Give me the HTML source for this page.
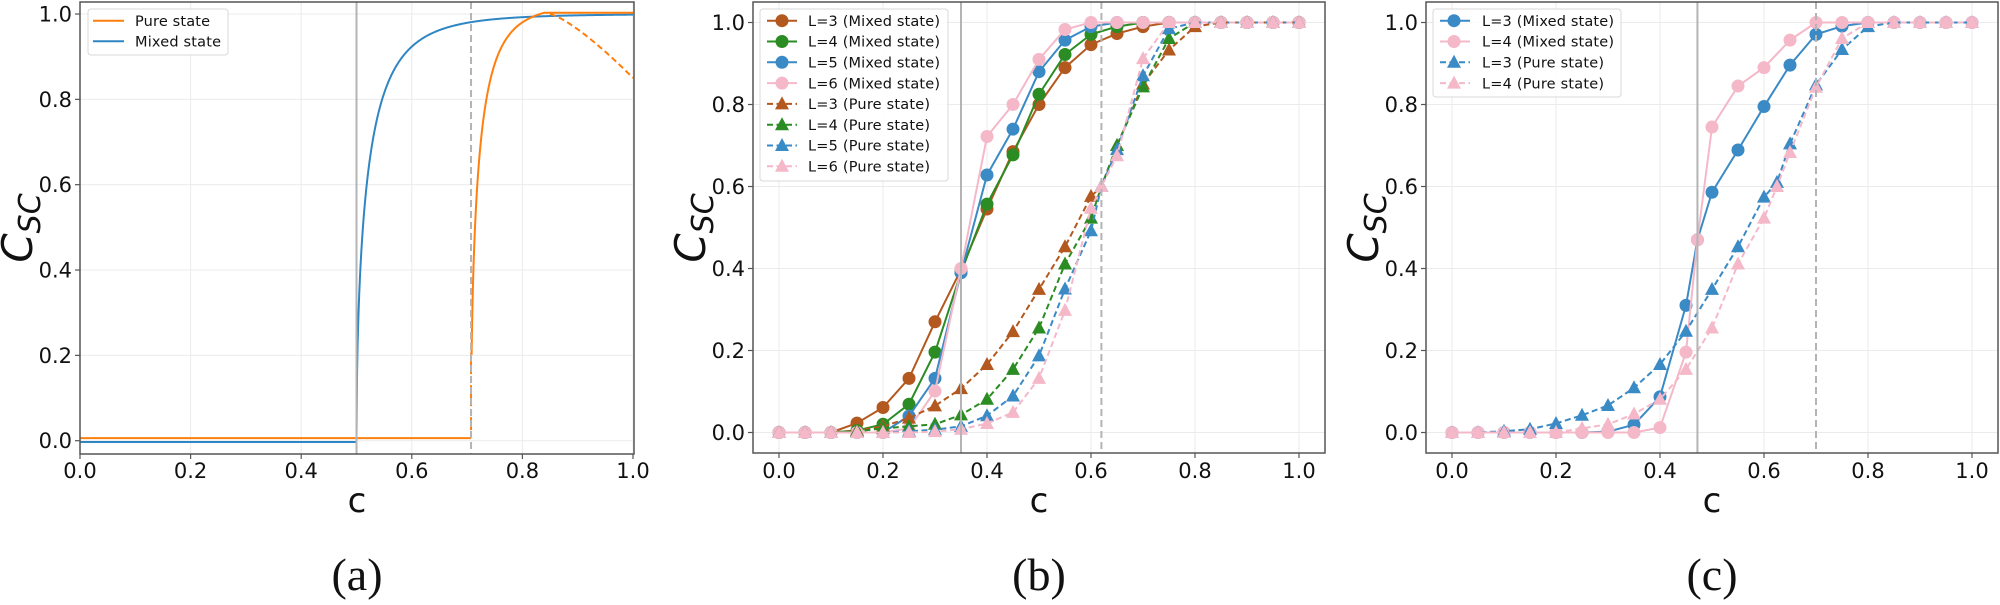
<!DOCTYPE html>
<html><head><meta charset="utf-8">
<style>
html,body{margin:0;padding:0;background:#fff;}
svg{display:block;}
text{font-family:"DejaVu Sans","Liberation Sans",sans-serif;fill:#111;}
</style></head>
<body>
<svg id="s" width="2000" height="605" viewBox="0 0 2000 605" xmlns="http://www.w3.org/2000/svg"></svg>
<script>
const S=document.getElementById('s');
let out='';
function add(t){out+=t;}
const GRAY='#555';
function panel(P){
  const X=c=>P.x0+c*P.xs, Y=v=>P.y0-v*P.ys;
  for(let i=0;i<=5;i++){const t=i*0.2;
    add(`<line x1="${X(t)}" y1="${P.top}" x2="${X(t)}" y2="${P.bot}" stroke="#ebebeb" stroke-width="1"/>`);
    add(`<line x1="${P.l}" y1="${Y(t)}" x2="${P.r}" y2="${Y(t)}" stroke="#ebebeb" stroke-width="1"/>`);
  }
  P.draw(X,Y);
  add(`<line x1="${X(P.v1)}" y1="${P.top}" x2="${X(P.v1)}" y2="${P.bot}" stroke="#b4b4b4" stroke-width="2"/>`);
  add(`<line x1="${X(P.v2)}" y1="${P.top}" x2="${X(P.v2)}" y2="${P.bot}" stroke="#b4b4b4" stroke-width="2" stroke-dasharray="7,4"/>`);
  add(`<rect x="${P.l}" y="${P.top}" width="${P.r-P.l}" height="${P.bot-P.top}" fill="none" stroke="${GRAY}" stroke-width="1.5"/>`);
  for(let i=0;i<=5;i++){const t=i*0.2;const lab=t.toFixed(1);
    add(`<line x1="${X(t)}" y1="${P.bot}" x2="${X(t)}" y2="${P.bot+5}" stroke="${GRAY}" stroke-width="1.2"/>`);
    add(`<text x="${X(t)}" y="478" font-size="21" text-anchor="middle">${lab}</text>`);
    add(`<line x1="${P.l-5}" y1="${Y(t)}" x2="${P.l}" y2="${Y(t)}" stroke="${GRAY}" stroke-width="1.2"/>`);
    add(`<text x="${P.l-8}" y="${Y(t)+7.5}" font-size="21" text-anchor="end">${lab}</text>`);
  }
  const cx=(P.l+P.r)/2;
  add(`<text x="${cx}" y="512" font-size="34" text-anchor="middle">c</text>`);
  add(`<text x="${cx}" y="590" font-size="46" text-anchor="middle" style="font-family:'Liberation Serif','DejaVu Serif',serif">(${P.lab})</text>`);
  const yl=P.l-58;
  add(`<text transform="translate(${yl+10},228) rotate(-90)" font-size="42" text-anchor="middle" style="font-style:italic">C<tspan font-size="30" dy="8">SC</tspan></text>`);
}
function poly(pts,X,Y,col,w,dash){
  const d=pts.map(p=>X(p[0]).toFixed(2)+','+Y(p[1]).toFixed(2)).join(' ');
  add(`<polyline points="${d}" fill="none" stroke="${col}" stroke-width="${w}" ${dash?'stroke-dasharray="'+dash+'"':''} stroke-linejoin="round"/>`);
}
function circ(x,y,col){add(`<circle cx="${x}" cy="${y}" r="6.5" fill="${col}"/>`);}
function tri(x,y,col){add(`<polygon points="${x},${y-7.5} ${x-7},${y+5.5} ${x+7},${y+5.5}" fill="${col}"/>`);}
function series(xs,vs,X,Y,col,dash,mk){
  const pts=xs.map((x,i)=>[x,vs[i]]);
  poly(pts,X,Y,col,2,dash?'6,3.5':null);
  pts.forEach(p=>mk(X(p[0]),Y(p[1]),col));
}
const BR='#b3581e',GR='#2a8c22',BL='#3a8ac6',PK='#f4b8c9';
const xs=[];for(let i=0;i<=20;i++)xs.push(+(i*0.05).toFixed(2));
function ins(xarr,varr,xn,vn){const a=xarr.slice(),b=varr.slice();let k=a.findIndex(x=>x>xn);a.splice(k,0,xn);b.splice(k,0,vn);return [a,b];}

panel({x0:80,xs:553,y0:440.7,ys:426.7,l:80,r:634,top:2,bot:454,v1:0.5,v2:0.7071,lab:'a',
draw:(X,Y)=>{
  const OR='#ff7f0e',MB='#2f86c3';
  let m=[[0,-0.003],[0.5,-0.003]];
  for(let c=0.5;c<=1.0001;c+=0.001){m.push([c,Math.tanh(5.1*Math.sqrt(Math.max(0,c-0.5)))]);}
  let p=[[0,0.006],[0.707,0.006]];
  let pd=[[0.7071,0.006],[0.7071,0.22]];
  let ps=[];
  const c0=0.7071,c1=0.84,k=6.3,N=Math.tanh(k*Math.sqrt(c1-c0));
  for(let c=c0;c<=c1+0.0001;c+=0.0005){ps.push([c,Math.min(1,Math.tanh(k*Math.sqrt(Math.max(0,c-c0)))/N)*1.003]);}
  ps.push([1,1.003]);
  let dec=[];for(let c=0.85;c<=1.0001;c+=0.005){dec.push([c,1-0.15*Math.pow((c-0.85)/0.15,1.3)]);}
  poly(p,X,Y,OR,2);
  poly(m,X,Y,MB,2);
  poly(ps.filter(q=>q[1]>0.2),X,Y,OR,2);
  poly(pd,X,Y,OR,2,'5,3');
  poly(dec,X,Y,OR,2,'6,3.5');
  add(`<rect x="88" y="9" width="140" height="46" rx="3" fill="#fff" fill-opacity="0.85" stroke="#d8d8d8"/>`);
  add(`<line x1="93" y1="20.7" x2="124" y2="20.7" stroke="${OR}" stroke-width="2"/>`);
  add(`<text x="135" y="25.8" font-size="14.5" textLength="75">Pure state</text>`);
  add(`<line x1="93" y1="41.3" x2="124" y2="41.3" stroke="${MB}" stroke-width="2"/>`);
  add(`<text x="135" y="46.4" font-size="14.5" textLength="86">Mixed state</text>`);
}});

panel({x0:779,xs:520,y0:432.5,ys:410,l:753,r:1325,top:2,bot:453,v1:0.35,v2:0.62,lab:'b',
draw:(X,Y)=>{
  const m3=[0,0,0,0.023,0.061,0.132,0.27,0.397,0.545,0.685,0.80,0.89,0.946,0.973,0.99,1,1,1,1,1,1];
  const m4=[0,0,0,0.005,0.02,0.069,0.196,0.39,0.557,0.677,0.825,0.922,0.971,0.99,1,1,1,1,1,1,1];
  const m5=[0,0,0,0,0,0.04,0.132,0.39,0.628,0.74,0.88,0.957,0.99,1,1,1,1,1,1,1,1];
  const m6=[0,0,0,0,0,0.01,0.101,0.40,0.722,0.80,0.91,0.983,1,1,1,1,1,1,1,1,1];
  const p3=[0,0,0,0.005,0.015,0.035,0.065,0.107,0.166,0.246,0.349,0.453,0.576,0.70,0.85,0.933,0.99,1,1,1,1];
  const p4=[0,0,0,0.003,0.01,0.015,0.02,0.043,0.081,0.154,0.255,0.411,0.523,0.70,0.843,0.961,1,1,1,1,1];
  const p5=[0,0,0,0,0,0.003,0.007,0.015,0.041,0.089,0.187,0.35,0.492,0.69,0.87,0.985,1,1,1,1,1];
  const p6=[0,0,0,0,0,0,0.002,0.008,0.022,0.049,0.132,0.298,0.547,0.675,0.912,1,1,1,1,1,1];
  series(xs,m3,X,Y,BR,0,circ);series(xs,m4,X,Y,GR,0,circ);series(xs,m5,X,Y,BL,0,circ);series(xs,m6,X,Y,PK,0,circ);
  [[p3,BR],[p4,GR],[p5,BL],[p6,PK]].forEach(([v,c])=>{const [a,b]=ins(xs,v,0.62,0.60);series(a,b,X,Y,c,1,tri);});
  add(`<rect x="760" y="9" width="188" height="172" rx="3" fill="#fff" fill-opacity="0.85" stroke="#d8d8d8"/>`);
  const L=[['L=3 (Mixed state)',BR,0],['L=4 (Mixed state)',GR,0],['L=5 (Mixed state)',BL,0],['L=6 (Mixed state)',PK,0],
           ['L=3 (Pure state)',BR,1],['L=4 (Pure state)',GR,1],['L=5 (Pure state)',BL,1],['L=6 (Pure state)',PK,1]];
  L.forEach((e,i)=>{const y=20.7+i*20.8;
    add(`<line x1="767" y1="${y}" x2="797" y2="${y}" stroke="${e[1]}" stroke-width="2" ${e[2]?'stroke-dasharray="6,3.5"':''}/>`);
    (e[2]?tri:circ)(782,y,e[1]);
    add(`<text x="808" y="${y+5.2}" font-size="14.5" textLength="${e[2]?122:132}">${e[0]}</text>`);
  });
}});

panel({x0:1452,xs:520,y0:432.5,ys:410,l:1426,r:1998,top:2,bot:453,v1:0.472,v2:0.70,lab:'c',
draw:(X,Y)=>{
  const m3=[0,0,0,0,0,0,0.002,0.019,0.087,0.31,0.586,0.689,0.795,0.896,0.971,0.991,1,1,1,1,1];
  const m4=[0,0,0,0,0,0,0,0,0.012,0.196,0.745,0.845,0.89,0.957,1,1,1,1,1,1,1];
  const p3=[0,0,0.003,0.008,0.022,0.042,0.066,0.109,0.166,0.247,0.349,0.453,0.574,0.704,0.848,0.934,0.99,1,1,1,1];
  const p4=[0,0,0,0,0,0.01,0.02,0.045,0.081,0.154,0.255,0.411,0.523,0.683,0.842,0.961,1,1,1,1,1];
  let [a,b]=ins(xs,m3,0.472,0.47);series(a,b,X,Y,BL,0,circ);
  [a,b]=ins(xs,m4,0.472,0.47);series(a,b,X,Y,PK,0,circ);
  [a,b]=ins(xs,p3,0.625,0.61);series(a,b,X,Y,BL,1,tri);
  [a,b]=ins(xs,p4,0.625,0.60);series(a,b,X,Y,PK,1,tri);
  add(`<rect x="1433" y="9" width="188" height="88" rx="3" fill="#fff" fill-opacity="0.85" stroke="#d8d8d8"/>`);
  const L=[['L=3 (Mixed state)',BL,0],['L=4 (Mixed state)',PK,0],['L=3 (Pure state)',BL,1],['L=4 (Pure state)',PK,1]];
  L.forEach((e,i)=>{const y=20.7+i*20.8;
    add(`<line x1="1440" y1="${y}" x2="1470" y2="${y}" stroke="${e[1]}" stroke-width="2" ${e[2]?'stroke-dasharray="6,3.5"':''}/>`);
    (e[2]?tri:circ)(1454,y,e[1]);
    add(`<text x="1482" y="${y+5.2}" font-size="14.5" textLength="${e[2]?122:132}">${e[0]}</text>`);
  });
}});
S.innerHTML=out;
</script>
</body></html>
